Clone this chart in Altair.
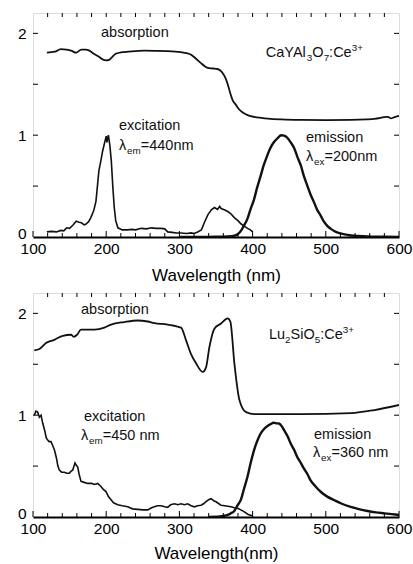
import altair as alt
import pandas as pd

# ---------------- CaYAl3O7:Ce3+ ----------------
cay_abs_nm = [119, 130, 138, 146, 152, 159, 166, 172, 177, 183, 189, 195, 200, 204, 207, 213,
              222, 230, 252, 284, 302, 310, 316, 322, 329, 335, 339, 346, 352, 356, 359, 363,
              366, 370, 373, 377, 382, 387, 394, 402, 412, 421, 440, 466, 500, 534, 555, 566,
              575, 582, 585, 589, 593, 600]
cay_abs = [1.81, 1.82, 1.846, 1.84, 1.83, 1.81, 1.84, 1.84, 1.83, 1.80, 1.775, 1.745, 1.735,
           1.74, 1.76, 1.80, 1.815, 1.82, 1.83, 1.825, 1.815, 1.805, 1.79, 1.755, 1.71, 1.675,
           1.66, 1.655, 1.65, 1.635, 1.61, 1.56, 1.50, 1.40, 1.34, 1.30, 1.25, 1.22, 1.195,
           1.18, 1.17, 1.163, 1.155, 1.15, 1.148, 1.15, 1.155, 1.16, 1.17, 1.18, 1.18, 1.165,
           1.175, 1.19]

cay_exc_nm = [119, 125, 132, 138, 142, 146, 150, 155, 159, 163, 166, 170, 172, 176, 179, 183,
              186, 188, 190, 193, 195, 198, 200, 201, 202, 203, 205, 207, 209, 211, 213, 216,
              222, 229, 235, 240, 248, 255, 262, 268, 275, 280, 284, 290, 296, 302, 310, 316,
              320, 325, 330, 334, 339, 344, 348, 352, 355, 357, 362, 366, 370, 375, 380, 384,
              388, 393, 397, 400]
cay_exc = [0.05, 0.055, 0.05, 0.065, 0.06, 0.09, 0.085, 0.12, 0.155, 0.145, 0.14, 0.12, 0.125,
           0.15, 0.19, 0.26, 0.35, 0.50, 0.65, 0.76, 0.84, 0.93, 0.99, 0.93, 0.97, 1.0, 0.90,
           0.745, 0.50, 0.29, 0.16, 0.09, 0.07, 0.07, 0.075, 0.07, 0.085, 0.08, 0.09, 0.085,
           0.085, 0.08, 0.05, 0.045, 0.04, 0.04, 0.035, 0.04, 0.035, 0.05, 0.07, 0.14, 0.22,
           0.27, 0.29, 0.27, 0.30, 0.28, 0.265, 0.25, 0.23, 0.19, 0.16, 0.13, 0.11, 0.085,
           0.07, 0.05]

cay_em_nm = [300, 330, 350, 365, 375, 380, 384, 388, 393, 397, 402, 406, 411, 415, 420, 424,
             429, 434, 439, 443, 448, 452, 457, 461, 466, 470, 475, 479, 484, 488, 493, 497,
             502, 507, 512, 520, 530, 545, 557, 580, 600]
cay_em = [0.0, 0.0, 0.002, 0.005, 0.012, 0.03, 0.06, 0.11, 0.18, 0.27, 0.37, 0.48, 0.60, 0.70,
          0.80, 0.87, 0.93, 0.97, 1.0, 0.995, 0.97, 0.93, 0.87, 0.79, 0.70, 0.60, 0.50, 0.42,
          0.34, 0.27, 0.21, 0.155, 0.11, 0.08, 0.057, 0.035, 0.02, 0.01, 0.005, 0.002, 0.0]

# ---------------- Lu2SiO5:Ce3+ ----------------
lso_abs_nm = [101.8, 108.7, 117.8, 129.2, 140.6, 152.0, 155.7, 160.2, 165.6, 183.9, 197.5,
              206.6, 224.8, 243.0, 256.7, 265.8, 284.0, 302.2, 309.1, 315.9, 322.7, 331.8,
              336.4, 341.0, 347.8, 356.9, 366.0, 369.7, 375.1, 382.0, 391.1, 402.4, 466.2,
              534.5, 566.4, 600.0]
lso_abs = [1.637, 1.65, 1.71, 1.74, 1.78, 1.79, 1.77, 1.79, 1.84, 1.84, 1.86, 1.89, 1.915,
           1.93, 1.92, 1.905, 1.89, 1.86, 1.735, 1.60, 1.51, 1.425, 1.47, 1.67, 1.85, 1.90,
           1.95, 1.915, 1.51, 1.15, 1.03, 1.01, 1.01, 1.02, 1.05, 1.10]

lso_exc_nm = [101.8, 104, 106.4, 108.7, 111, 113.3, 116, 118, 120.1, 122, 124.6, 127, 129.2,
              132, 134, 136, 139, 142.8, 146, 149.6, 152, 154.2, 157.4, 159, 161.1, 163, 165.6,
              170, 174.7, 180, 184, 188.4, 192.9, 196, 199.7, 203, 206.6, 210, 215.7, 222,
              229.4, 236, 243, 250, 256.7, 262, 265.8, 270, 274.9, 280, 284, 288, 293.1, 298,
              302.2, 307, 311.3, 316, 320.4, 325, 329.5, 333, 336.4, 340, 343.2, 347, 350, 354,
              356.9, 362, 366, 370.5, 375, 379.6, 384, 388.7, 394, 400]
lso_exc = [1.0, 1.04, 1.03, 0.98, 1.0, 0.92, 0.85, 0.78, 0.755, 0.74, 0.74, 0.70, 0.66, 0.58,
           0.50, 0.46, 0.44, 0.44, 0.43, 0.43, 0.45, 0.46, 0.53, 0.51, 0.49, 0.42, 0.35, 0.34,
           0.33, 0.33, 0.32, 0.33, 0.30, 0.27, 0.25, 0.20, 0.17, 0.14, 0.12, 0.11, 0.10, 0.08,
           0.075, 0.07, 0.07, 0.09, 0.10, 0.11, 0.11, 0.10, 0.095, 0.12, 0.13, 0.12, 0.13,
           0.12, 0.13, 0.11, 0.10, 0.11, 0.115, 0.13, 0.15, 0.17, 0.18, 0.16, 0.15, 0.13,
           0.115, 0.11, 0.105, 0.10, 0.09, 0.085, 0.07, 0.05, 0.025, 0.01]

lso_em_nm = [340, 352, 360, 366, 370, 375, 379, 384, 388, 393, 397, 402, 406, 411, 415, 420,
             424, 429, 433, 436, 440, 443, 448, 452, 457, 461, 466, 470, 475, 479, 486, 493,
             502, 511, 522, 534, 545, 557, 568, 580, 590, 600]
lso_em = [0.0, 0.002, 0.01, 0.02, 0.035, 0.06, 0.11, 0.17, 0.27, 0.395, 0.52, 0.657, 0.74,
          0.82, 0.86, 0.892, 0.91, 0.925, 0.92, 0.918, 0.89, 0.853, 0.79, 0.722, 0.655, 0.59,
          0.53, 0.477, 0.42, 0.363, 0.30, 0.248, 0.20, 0.167, 0.13, 0.10, 0.078, 0.059,
          0.046, 0.036, 0.028, 0.02]

# ---------------- axes ----------------
x_labels = [100, 200, 300, 400, 500, 600]
x_minor = [v for v in range(120, 600, 20) if v % 100]
x_all = list(range(120, 600, 20))
y_labels = [0, 1, 2]
y_minor = [0.5, 1.0, 1.5, 2.0]

# ---------------- annotations (anchor nm, anchor value, text runs) ----------------
cay_texts = [
    (192.9, 1.965, [("absorption", "n")]),
    (418.0, 1.77, [("CaYAl", "n"), ("3", "sub"), ("O", "n"), ("7", "sub"), (":Ce", "n"), ("3+", "sup")]),
    (217.5, 1.046, [("excitation", "n")]),
    (217.5, 0.85, [("\u03bb", "n"), ("em", "sub"), ("=440nm", "n")]),
    (473.0, 0.93, [("emission", "n")]),
    (473.0, 0.745, [("\u03bb", "n"), ("ex", "sub"), ("=200nm", "n")]),
]
lso_texts = [
    (165.6, 1.99, [("absorption", "n")]),
    (422.4, 1.75, [("Lu", "n"), ("2", "sub"), ("SiO", "n"), ("5", "sub"), (":Ce", "n"), ("3+", "sup")]),
    (169.7, 0.944, [("excitation", "n")]),
    (165.6, 0.755, [("\u03bb", "n"), ("em", "sub"), ("=450 nm", "n")]),
    (483.9, 0.77, [("emission", "n")]),
    (482.5, 0.59, [("\u03bb", "n"), ("ex", "sub"), ("=360 nm", "n")]),
]

W, H = 366, 224
FONT = "Liberation Sans"
LABEL_SIZE = 14.5

# advance widths (em) used to lay out runs of sub/superscript text
ADV = {'C': .722, 'a': .556, 'Y': .667, 'A': .667, 'l': .222, 'O': .778, ':': .278, 'e': .556,
       'L': .556, 'u': .556, 'S': .667, 'i': .222, 'm': .833, '=': .584, 'n': .556, ' ': .278,
       'x': .5, '\u03bb': .556, '+': .584}


def text_width(s, size):
    return sum(ADV.get(c, .556) for c in s) * size


def make_panel(title, title_pad, abs_nm, abs_v, exc_nm, exc_v, em_nm, em_v, texts):
    X = alt.X("nm:Q", scale=alt.Scale(domain=[100, 600], nice=False, zero=False),
              axis=alt.Axis(values=x_labels, title=title, ticks=False, grid=False,
                            labelPadding=4, titlePadding=title_pad, domainWidth=2,
                            domainColor="black", labelFontSize=15.5, titleFontSize=17,
                            titleFontWeight="normal", labelColor="black",
                            titleColor="black", labelFlush=False, labelFont=FONT,
                            titleFont=FONT))
    Y = alt.Y("v:Q", scale=alt.Scale(domain=[0, 2.2], nice=False),
              axis=alt.Axis(values=y_labels, title=None, ticks=False, domain=False,
                            grid=False, labelPadding=7, labelFontSize=15.5,
                            labelColor="black", format="d", labelFont=FONT,
                            labelOffset={"condition": {"test": "datum.value == 0", "value": -4},
                                         "value": 0}))

    def curve(nm, v, width, interp):
        df = pd.DataFrame({"nm": nm, "v": v})
        return alt.Chart(df).mark_line(color="#111", strokeWidth=width,
                                       interpolate=interp, clip=True).encode(x=X, y=Y)

    layers = [
        curve(abs_nm, abs_v, 1.8, "monotone"),
        curve(exc_nm, exc_v, 1.6, "linear"),
        curve(em_nm, em_v, 2.4, "monotone"),
    ]

    # inward ticks on all four sides
    layers.append(alt.Chart(pd.DataFrame({"nm": x_labels})).mark_rule(color="black").encode(
        x=X, y=alt.value(H), y2=alt.value(H - 6)))
    layers.append(alt.Chart(pd.DataFrame({"nm": x_minor})).mark_rule(color="black").encode(
        x=X, y=alt.value(H), y2=alt.value(H - 4)))
    layers.append(alt.Chart(pd.DataFrame({"nm": x_all})).mark_rule(color="black").encode(
        x=X, y=alt.value(0), y2=alt.value(4)))
    layers.append(alt.Chart(pd.DataFrame({"v": y_minor})).mark_rule(color="black").encode(
        y=Y, x=alt.value(0), x2=alt.value(5)))
    layers.append(alt.Chart(pd.DataFrame({"v": y_minor})).mark_rule(color="black").encode(
        y=Y, x=alt.value(W), x2=alt.value(W - 5)))

    # text annotations, built run by run so subscripts and superscripts sit right
    for nm, v, runs in texts:
        dx = 0.0
        for run, kind in runs:
            fs = LABEL_SIZE if kind == "n" else LABEL_SIZE * 0.68
            dy = {"n": 0, "sub": 4, "sup": -6}[kind]
            df = pd.DataFrame({"nm": [nm], "v": [v], "label": [run]})
            layers.append(alt.Chart(df).mark_text(
                align="left", baseline="alphabetic", dx=dx, dy=dy, fontSize=fs,
                color="#111", font=FONT).encode(x=X, y=Y, text="label:N"))
            dx += text_width(run, fs)

    return alt.layer(*layers).properties(width=W, height=H)


top = make_panel("Wavelength (nm)", 11, cay_abs_nm, cay_abs, cay_exc_nm, cay_exc,
                 cay_em_nm, cay_em, cay_texts)
bottom = make_panel("Wavelength(nm)", 9, lso_abs_nm, lso_abs, lso_exc_nm, lso_exc,
                    lso_em_nm, lso_em, lso_texts)

chart = alt.vconcat(top, bottom, spacing=8).properties(
    padding={"left": 16, "top": 12, "right": 0, "bottom": 0}
).configure_view(stroke="black", strokeWidth=1).configure(background="white")

chart.save("out.html", embed_options={"renderer": "svg", "actions": False})
